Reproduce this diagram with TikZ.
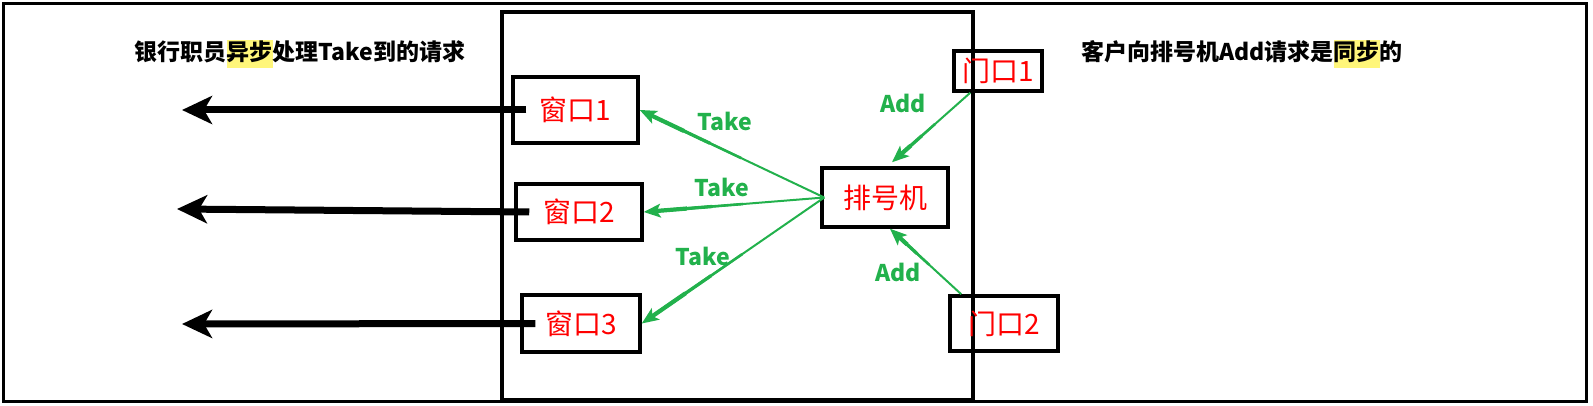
\documentclass[tikz,border=0pt]{standalone}
\usepackage{fontspec}
\newfontfamily\cjk{Noto Sans CJK SC}
\usetikzlibrary{arrows.meta,calc}
\definecolor{arrowgreen}{RGB}{34,177,76}
\definecolor{deskred}{RGB}{255,0,0}
\definecolor{marker}{RGB}{255,246,122}
\newcommand{\hilite}[1]{{\setlength{\fboxsep}{0pt}\colorbox{marker}{\rule[-7pt]{0pt}{28pt}#1}}}

\begin{document}
\begin{tikzpicture}
[x=1pt, y=-1pt,
  boxDecorate/.style={draw, line width=3.5pt, text=deskred, inner sep=0pt,
    font=\cjk\fontsize{28}{28}\selectfont},
  sendDecorate/.style={-{Stealth[length=30pt,width=28pt,inset=8pt]}, line width=7pt},
  lineDecorate/.style={-{Stealth[length=17pt,width=14pt,inset=4pt]}, arrowgreen, line width=2pt},
  thickDecorate/.style={-, arrowgreen, shorten >=12pt},
  labelDecorate/.style={text=arrowgreen, font=\cjk\bfseries\fontsize{23}{23}\selectfont},
  titleDecorate/.style={font=\cjk\bfseries\fontsize{23}{23}\selectfont}]
\useasboundingbox (0,0) rectangle (1593,406);
%% frames
\draw[line width=3pt] (3,4) rectangle (1586,401);
\draw[line width=3.5pt] (502,12) rectangle (973,400);
%% titles
\node[titleDecorate] (leftnote) at (300,54) {银行职员\hilite{异步}处理Take到的请求};
\node[titleDecorate] (rightnote) at (1242,54) {客户向排号机Add请求是\hilite{同步}的};
%% nodes or vertices
\foreach \nodename/\caption/\x/\y/\w/\h in {
  win1/窗口1/575.5/110/125/66, win2/窗口2/579/212/126/56,
  win3/窗口3/581/323.5/118/57, machine/排号机/885/197.5/126/59,
  door1/门口1/998/71/88/40, door2/门口2/1004/323.5/108/55}
{
  \node[boxDecorate, minimum width=\w pt, minimum height=\h pt] (\nodename) at (\x,\y) {\caption};
}
%% outgoing staff
\foreach \nodename/\x/\y in {win1/182/110, win2/177/209, win3/182/324}
{
  \coordinate (out-\nodename) at (\x,\y);
  \draw[sendDecorate] ([xshift=15pt]\nodename.west) -- (out-\nodename);
}
%% ends of the green arrows
\coordinate (take) at ([xshift=4pt]machine.west);
\coordinate (from1) at ([xshift=18pt]door1.south west);
\coordinate (from2) at ([xshift=13pt]door2.north west);
\coordinate (top) at ([xshift=7pt,yshift=4pt]machine.north);
\coordinate (bottom) at ([xshift=5pt]machine.south);
%% edges or lines
\foreach \startnode/\endnode in {
  take/win1.east, take/win2.east, take/win3.east, from1/top, from2/bottom}
{
  \draw[lineDecorate] (\startnode) -- (\endnode);
  \foreach \part/\lw in {0.45/2.6, 0.62/3.3, 0.76/4.2}
    \draw[thickDecorate, line width=\lw pt] ($(\startnode)!\part!(\endnode)$) -- (\endnode);
}
%% labels
\foreach \labelname/\word/\x/\y in {
  t1/Take/725/121, t2/Take/722/187, t3/Take/703/256, a1/Add/903/103, a2/Add/898/272}
{
  \node[labelDecorate] (\labelname) at (\x,\y) {\word};
}
\end{tikzpicture}
\end{document}
